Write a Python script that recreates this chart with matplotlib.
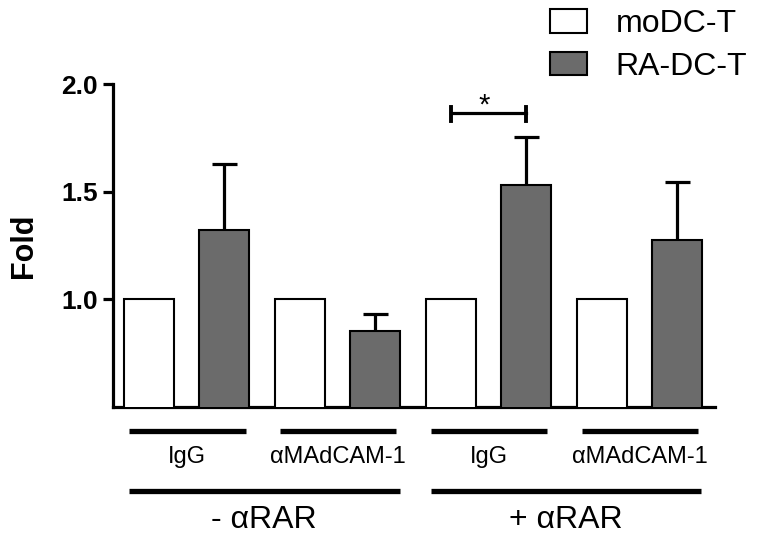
import numpy as np
import matplotlib
matplotlib.use("Agg")
from matplotlib import pyplot as plt

# --- Daten ---
gruppen = ["IgG", "αMAdCAM-1", "IgG", "αMAdCAM-1"]
haupt_gruppen = ["- αRAR", "+ αRAR"]
serien = ["moDC-T", "RA-DC-T"]
modc_werte = [1.0, 1.0, 1.0, 1.0]
radc_werte = [1.32, 0.855, 1.53, 1.275]
radc_fehler = [0.31, 0.075, 0.225, 0.27]
sig_paar = (2, "*")  # Gruppe mit Signifikanz zwischen beiden Balken

plt.rcParams['font.family'] = ['Liberation Sans', 'DejaVu Sans']

grau = "#6b6b6b"
fig = plt.figure(figsize=(7.62, 5.39), dpi=100)
ax = fig.add_axes([113/762, 1-407/539, (715-113)/762, (407-84)/539])

x = np.arange(len(gruppen))
breite = 0.331
ax.bar(x - 0.25, modc_werte, breite, bottom=0, color="white", edgecolor="black",
       linewidth=1.5, label=serien[0], zorder=3)
ax.bar(x + 0.25, radc_werte, breite, bottom=0, color=grau, edgecolor="black",
       linewidth=1.5, label=serien[1], zorder=3)

# nur obere Fehlerbalken
eb = ax.errorbar(x + 0.25, radc_werte, yerr=[np.zeros(len(x)), radc_fehler], fmt="none",
                 ecolor="black", elinewidth=2.3, capsize=9, capthick=2.3, zorder=2)
eb[1][0].set_visible(False)

ax.set_xlim(-0.488, 3.5)
ax.set_ylim(0.5, 2.0)
ax.set_yticks([1.0, 1.5, 2.0])
ax.set_yticklabels(["1.0", "1.5", "2.0"], fontsize=19, fontweight="bold")
ax.set_xticks([])
ax.set_ylabel("Fold", fontsize=22, fontweight="bold", labelpad=16)
for s in ["top", "right"]:
    ax.spines[s].set_visible(False)
for s in ["left", "bottom"]:
    ax.spines[s].set_linewidth(2.3)
ax.tick_params(axis="y", width=2.3, length=7, pad=4)

# Signifikanzbalken
g, stern = sig_paar
ax.plot([g - 0.25, g + 0.25], [1.867, 1.867], color="black", lw=2.3)
ax.plot([g - 0.25, g - 0.25], [1.828, 1.895], color="black", lw=2.8)
ax.plot([g + 0.25, g + 0.25], [1.828, 1.895], color="black", lw=2.8)
ax.text(g - 0.03, 1.9, stern, ha="center", va="center", fontsize=21)

# Gruppenbeschriftung unter der Achse
trans = ax.get_xaxis_transform()
for i, name in enumerate(gruppen):
    ax.plot([i - 0.38, i + 0.39], [-0.074, -0.074], color="black", lw=3.8,
            transform=trans, clip_on=False, solid_capstyle="butt")
    ax.text(i, -0.155, name, transform=trans, ha="center", va="center", fontsize=17)
for j, name in enumerate(haupt_gruppen):
    a, b = 2*j, 2*j + 1
    ax.plot([a - 0.38, b + 0.41], [-0.259, -0.259], color="black", lw=3.8,
            transform=trans, clip_on=False, solid_capstyle="butt")
    ax.text((a + b)/2 + 0.01, -0.35, name, transform=trans, ha="center", va="center", fontsize=23)

leg = ax.legend(loc="upper left", bbox_to_anchor=(550/762, 1-9/539),
                bbox_transform=fig.transFigure, frameon=False, fontsize=23,
                handlelength=1.16, handleheight=0.76, handletextpad=0.9,
                labelspacing=0.4, borderpad=0, borderaxespad=0)
for p in leg.get_patches():
    p.set_linewidth(1.5)

fig.savefig("out.png", dpi=100)
